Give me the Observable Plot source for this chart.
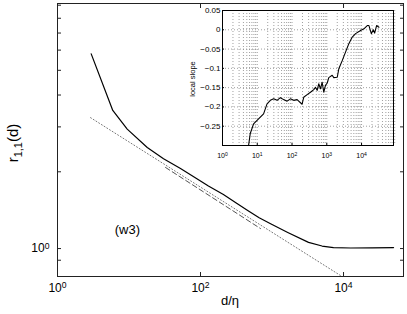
<!DOCTYPE html>
<html><head><meta charset="utf-8">
<script src="https://cdn.jsdelivr.net/npm/d3@7"></script>
<script src="https://cdn.jsdelivr.net/npm/@observablehq/plot@0.6"></script>
<style>
body{margin:0;background:#fff;}
#wrap{position:relative;width:407px;height:314px;font-family:"Liberation Sans",Arial,Helvetica,sans-serif;}
#main{position:absolute;left:0;top:0;width:407px;}
#inset{position:absolute;left:180px;top:0;width:217px;}
</style></head><body><div id="wrap"><div id="main"></div><div id="inset"></div></div>
<script>
// main curve r_{1,1}(d)
const mainD = [2.96, 5.93, 9.44, 18.0, 30.4, 52.5, 89, 129, 209, 316, 457, 661, 955, 1660, 3240, 5010, 7240, 12600, 25100, 50100];
const mainR = [5.80, 3.48, 2.94, 2.49, 2.25, 2.06, 1.88, 1.76, 1.63, 1.51, 1.41, 1.32, 1.25, 1.156, 1.057, 1.023, 1.009, 1.005, 1.007, 1.009];
// dotted power-law reference
const dotD = [2.9, 9000];
const dotR = [3.26, 0.785];
// dashed fit
const dashD = [32.4, 690];
const dashR = [2.08, 1.198];
// inset: local slope
const insetD = [5.62, 6.29, 7.84, 10.9, 15.2, 19.1, 23.8, 29.6, 37.1, 46.2, 57.5, 72.1, 89.7, 112, 140, 195, 217, 272, 339, 422, 472, 528, 587, 658, 736, 819, 917, 1030, 1140, 1430, 1590, 2000, 2220, 2780, 3460, 4310, 5400, 6730, 9380, 11700, 14600, 16300, 19100, 21800, 23800, 27100, 31600];
const insetS = [-0.300, -0.269, -0.244, -0.231, -0.218, -0.192, -0.183, -0.179, -0.183, -0.176, -0.181, -0.185, -0.179, -0.183, -0.181, -0.193, -0.175, -0.168, -0.162, -0.155, -0.149, -0.157, -0.140, -0.153, -0.136, -0.162, -0.144, -0.138, -0.124, -0.118, -0.124, -0.123, -0.101, -0.080, -0.058, -0.036, -0.019, -0.010, -0.002, 0.0025, 0.011, 0.011, -0.010, 0.000, -0.0085, 0.011, 0.0065];
// ticks
const xTicksMain = [1, 100, 10000];
const yTicksMain = [0.9, 1, 2, 3, 4, 5, 6, 7, 8, 9];
const insetXTicks = [1, 10, 100, 1000, 10000];
const insetYTicks = [0.05, 0, -0.05, -0.1, -0.15, -0.2, -0.25];

const mainData = mainD.map((d, i) => ({d, r: mainR[i]}));
const dotData = dotD.map((d, i) => ({d, r: dotR[i]}));
const dashData = dashD.map((d, i) => ({d, r: dashR[i]}));
const insetData = insetD.map((d, i) => ({d, s: insetS[i]}));
const insetGrid = d3.range(0, 5).flatMap(k => d3.range(1, 10).map(m => m * Math.pow(10, k)));

const FONT = '"Liberation Sans", Arial, Helvetica, sans-serif';
const pow = d => "10^" + Math.round(Math.log10(d));

const main = Plot.plot({
  width: 407, height: 314,
  marginLeft: 57, marginRight: 4, marginTop: 3, marginBottom: 38,
  style: {fontFamily: FONT, fontSize: "12px", background: "white", color: "#000"},
  x: {type: "log", domain: [1, 69000]},
  y: {type: "log", domain: [0.777, 9.14]},
  marks: [
    Plot.axisX(xTicksMain, {anchor: "bottom", tickSize: -4, tickPadding: 11, tickFormat: pow, label: null, stroke: "#222"}),
    Plot.axisX(xTicksMain, {anchor: "top", tickSize: -4, tickFormat: () => "", label: null, stroke: "#222"}),
    Plot.axisY(yTicksMain, {anchor: "left", tickSize: -4, tickPadding: 12, tickFormat: d => d === 1 ? "10^0" : "", label: null, stroke: "#222"}),
    Plot.axisY(yTicksMain, {anchor: "right", tickSize: -4, tickFormat: () => "", label: null, stroke: "#222"}),
    Plot.line(dotData, {x: "d", y: "r", stroke: "#777", strokeWidth: 1, strokeDasharray: "1,2.2"}),
    Plot.line(dashData, {x: "d", y: "r", stroke: "#555", strokeWidth: 1, strokeDasharray: "5,3"}),
    Plot.line(mainData, {x: "d", y: "r", stroke: "#000", strokeWidth: 1.2}),
    Plot.text(["(w3)"], {x: 9.5, y: 1.187, text: d => d, fontSize: 13, fill: "#000"}),
    Plot.frame({stroke: "#222"})
  ]
});
document.getElementById("main").appendChild(main);

const inset = Plot.plot({
  width: 217, height: 165,
  marginLeft: 42, marginRight: 4, marginTop: 10, marginBottom: 20,
  style: {fontFamily: FONT, fontSize: "8px", background: "transparent", color: "#000", overflow: "visible"},
  x: {type: "log", domain: [1, 83000]},
  y: {domain: [-0.3, 0.05]},
  marks: [
    Plot.frame({fill: "white", stroke: "none"}),
    Plot.gridX(insetGrid, {stroke: "#888", strokeOpacity: 1, strokeDasharray: "1,2", strokeWidth: 0.8}),
    Plot.gridY(insetYTicks, {stroke: "#888", strokeOpacity: 1, strokeDasharray: "1,2", strokeWidth: 0.8}),
    Plot.axisX(insetXTicks, {anchor: "bottom", tickSize: -2, tickPadding: 10, tickFormat: pow, label: null, fontSize: 7}),
    Plot.axisY(insetYTicks, {anchor: "left", tickSize: -2, tickPadding: 4, tickFormat: d => String(d).replace("-", "\u2212"), label: null}),
    Plot.line(insetData, {x: "d", y: "s", stroke: "#000", strokeWidth: 1.1, clip: true}),
    Plot.frame({stroke: "#000"})
  ]
});
document.getElementById("inset").appendChild(inset);

// superscripts for powers of ten
for (const svg of [main, inset]) {
  d3.select(svg).selectAll("text").each(function() {
    const t = this.textContent;
    const i = t.indexOf("^");
    if (i < 0) return;
    const s = d3.select(this);
    s.text(null);
    s.append("tspan").text(t.slice(0, i));
    s.append("tspan").attr("dy", "-0.45em").attr("font-size", "0.72em").text(t.slice(i + 1));
  });
}

// axis titles
const m = d3.select(main);
const yl = m.append("text").attr("transform", "translate(18,143) rotate(-90)")
  .attr("text-anchor", "middle").attr("font-size", 15).attr("fill", "#000").attr("font-family", FONT);
yl.append("tspan").text("r");
yl.append("tspan").attr("dy", 4).attr("font-size", 11).text("1,1");
yl.append("tspan").attr("dy", -4).text("(d)");
m.append("text").attr("x", 230).attr("y", 305).attr("text-anchor", "middle")
  .attr("font-size", 13).attr("fill", "#000").attr("font-family", FONT).text("d/η");

d3.select(inset).append("text").attr("transform", "translate(15,79) rotate(-90)")
  .attr("text-anchor", "middle").attr("font-size", 7.5).attr("fill", "#000").attr("font-family", FONT).text("local slope");
</script></body></html>
